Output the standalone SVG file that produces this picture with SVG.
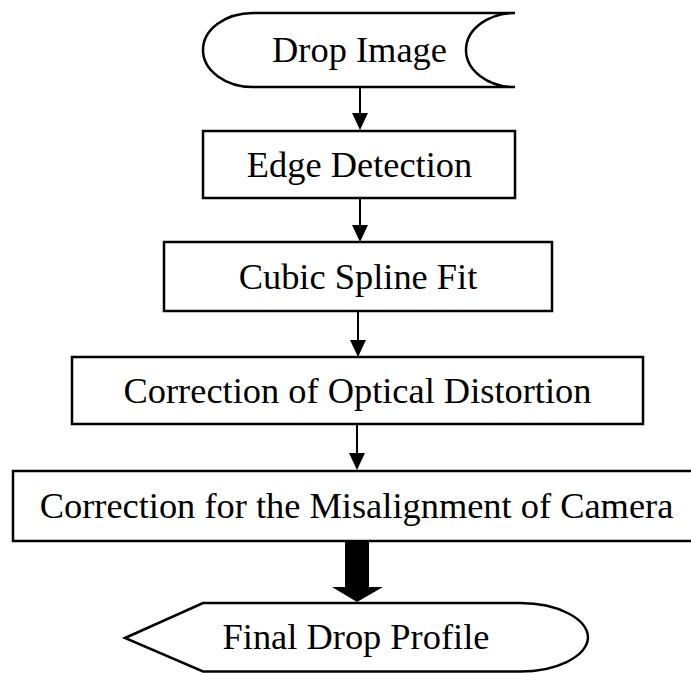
<svg xmlns="http://www.w3.org/2000/svg" width="691" height="673" viewBox="0 0 691 673">
<style>
.box{fill:#fff;stroke:#000;stroke-width:2.5}
.lbl{font-family:"Liberation Serif","Times New Roman",serif;font-size:36.4px;fill:#000;text-anchor:middle}
.ln{stroke:#000;stroke-width:2;fill:none}
.hd{fill:#000}
</style>
<rect width="691" height="673" fill="#fff"/>
<g id="connectors">
<line class="ln" x1="360" y1="87" x2="360" y2="115"/>
<polygon class="hd" points="352,113 368,113 360,130"/>
<line class="ln" x1="360" y1="198" x2="360" y2="227"/>
<polygon class="hd" points="352,225 368,225 360,242"/>
<line class="ln" x1="358" y1="311" x2="358" y2="342"/>
<polygon class="hd" points="350,340 366,340 358,357"/>
<line class="ln" x1="357" y1="424" x2="357" y2="455"/>
<polygon class="hd" points="349,453 365,453 357,470"/>
<polygon class="hd" points="345,541 369,541 369,587 383,587 357,602 332,587 345,587"/>
</g>
<g id="drop-image">
<path class="box" d="M253,13 L515,13 A49,37 0 0 0 515,87 L253,87 A50,37 0 0 1 253,13 Z"/>
<text class="lbl" x="359.5" y="62">Drop Image</text>
</g>
<g id="edge-detection">
<rect class="box" x="203" y="131" width="312" height="67"/>
<text class="lbl" x="359.5" y="177">Edge Detection</text>
</g>
<g id="cubic-spline">
<rect class="box" x="164" y="242" width="388" height="69"/>
<text class="lbl" x="358" y="289">Cubic Spline Fit</text>
</g>
<g id="optical-distortion">
<rect class="box" x="72" y="357" width="571" height="67"/>
<text class="lbl" x="357.5" y="403">Correction of Optical Distortion</text>
</g>
<g id="misalignment">
<rect class="box" x="13" y="471" width="690" height="70"/>
<text class="lbl" x="356.5" y="518">Correction for the Misalignment of Camera</text>
</g>
<g id="final-profile">
<path class="box" d="M125,638 L203,603 L520,603 A68,35 0 0 1 588,638 A68,35 0 0 1 520,671.5 L203,671.5 Z"/>
<text class="lbl" x="356" y="649">Final Drop Profile</text>
</g>
</svg>
